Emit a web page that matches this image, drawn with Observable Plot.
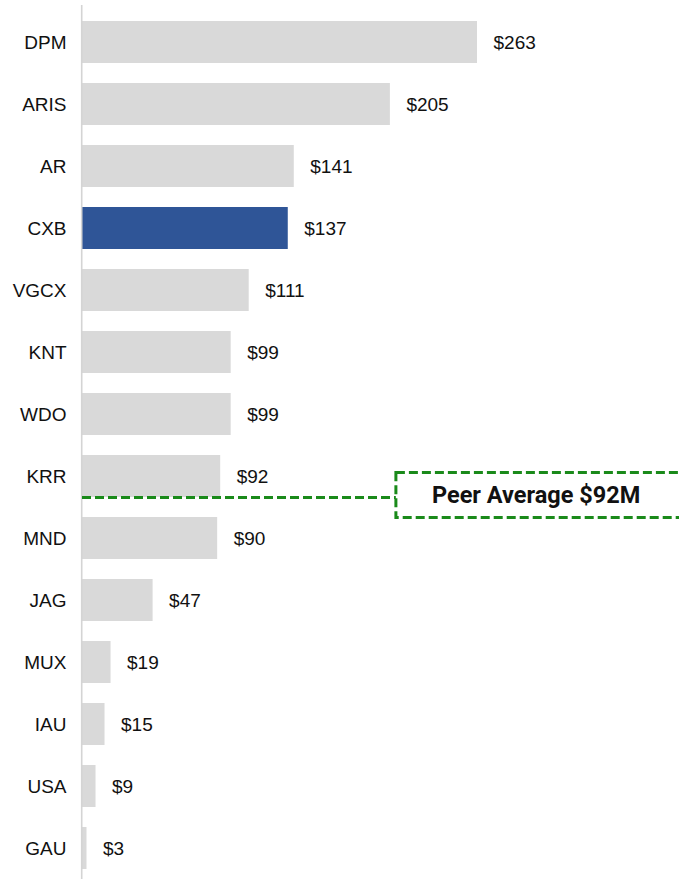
<!DOCTYPE html>
<html>
<head>
<meta charset="utf-8">
<script src="https://cdn.jsdelivr.net/npm/d3@7"></script>
<script src="https://cdn.jsdelivr.net/npm/@observablehq/plot@0.6"></script>
<style>
  html, body { margin: 0; padding: 0; background: #fff; overflow: hidden; }
  #chart svg { overflow: hidden; }
</style>
</head>
<body>
<div id="chart"></div>
<script>
const categories = ["DPM","ARIS","AR","CXB","VGCX","KNT","WDO","KRR","MND","JAG","MUX","IAU","USA","GAU"];
const values = [263, 205, 141, 137, 111, 99, 99, 92, 90, 47, 19, 15, 9, 3];
const highlight = "CXB";
const peerAverage = 92;
const peerLabel = "Peer Average $92M";
const peerAnchorCategory = "KRR";

const data = categories.map((c, i) => ({cat: c, value: values[i]}));

const plot = Plot.plot({
  width: 679,
  height: 879,
  marginLeft: 82,
  marginRight: 0,
  marginTop: 5,
  marginBottom: 0,
  style: {background: "#fff"},
  x: {domain: [0, 263], range: [82, 477], axis: null},
  y: {domain: categories, range: [5, 886], paddingInner: 0.316, paddingOuter: 0.158, label: null},
  marks: [
    Plot.axisY({tickSize: 0, tickPadding: 16, fontSize: 19, fontFamily: "Liberation Sans, Arial, sans-serif", color: "#111", label: null}),
    Plot.barX(data, {y: "cat", x: "value", fill: d => d.cat === highlight ? "#2f5597" : "#d9d9d9"}),
    Plot.ruleX([0], {stroke: "#d4d4d4", strokeWidth: 1.6, dx: -0.8}),
    Plot.text(data, {y: "cat", x: "value", text: d => "$" + d.value, dx: 16, textAnchor: "start", fontSize: 19, fontFamily: "Liberation Sans, Arial, sans-serif", fill: "#111"}),
    Plot.ruleY([{cat: peerAnchorCategory}], {y: "cat", x1: 0, x2: 209, dy: 21, stroke: "#1a8a1a", strokeWidth: 3, strokeDasharray: "9,4"}),
    Plot.rect([{cat: peerAnchorCategory}], {y: "cat", x1: 209, x2: 420, dy: 19, insetTop: -1.5, insetBottom: -1.5, fill: "#fff", stroke: "#1a8a1a", strokeWidth: 3, strokeDasharray: "9,4", ariaLabel: "peerbox"}),
    Plot.text([{cat: peerAnchorCategory, label: peerLabel}], {y: "cat", x: 302, dy: 19, text: "label", fontSize: 23.5, fontWeight: "bold", fontFamily: "Roboto, sans-serif", fill: "#111"})
  ]
});

d3.select(plot).selectAll("g[aria-label='peerbox'] rect")
  .style("filter", "drop-shadow(0px 4px 4px rgba(0,0,0,0.2))");

document.getElementById("chart").appendChild(plot);
</script>
</body>
</html>
